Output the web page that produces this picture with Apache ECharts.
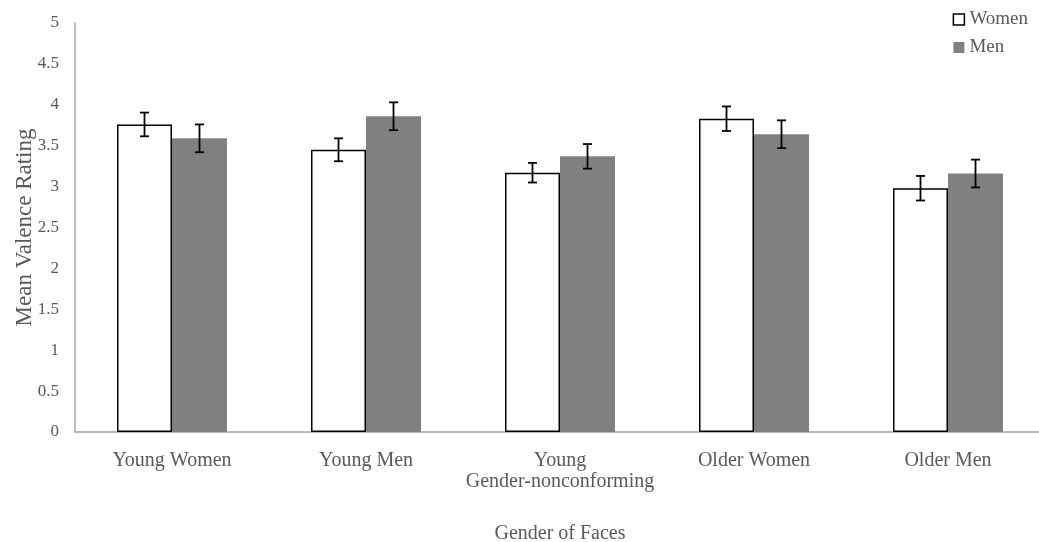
<!DOCTYPE html>
<html>
<head>
<meta charset="utf-8">
<script src="https://cdn.jsdelivr.net/npm/echarts@6/dist/echarts.min.js"></script>
<style>html,body{margin:0;padding:0;background:#fff}#c{width:1039px;height:542px}</style>
</head>
<body>
<div id="c"></div>
<script>
var categories = ['Young Women', 'Young Men', 'Young\nGender-nonconforming', 'Older Women', 'Older Men'];
var womenValues = [3.76, 3.45, 3.17, 3.83, 2.98];
var womenErrors = [0.145, 0.14, 0.12, 0.15, 0.15];
var menValues = [3.59, 3.86, 3.37, 3.64, 3.16];
var menErrors = [0.17, 0.17, 0.15, 0.17, 0.17];
var yTicks = [0, 0.5, 1, 1.5, 2, 2.5, 3, 3.5, 4, 4.5, 5];

var BAR_W = 55;
var FONT = '"Liberation Serif", "DejaVu Serif", serif';

function errSeries(values, errors, offset) {
  return {
    type: 'custom',
    silent: true,
    z: 10,
    data: values.map(function (v, i) { return [i, v, errors[i]]; }),
    renderItem: function (params, api) {
      var i = api.value(0), v = api.value(1), e = api.value(2);
      var top = api.coord([i, v + e]);
      var bot = api.coord([i, v - e]);
      var x = top[0] + offset;
      var cap = 4.5;
      var st = { stroke: '#000', lineWidth: 1.8 };
      return {
        type: 'group',
        children: [
          { type: 'line', shape: { x1: x, y1: top[1], x2: x, y2: bot[1] }, style: st },
          { type: 'line', shape: { x1: x - cap, y1: top[1], x2: x + cap, y2: top[1] }, style: st },
          { type: 'line', shape: { x1: x - cap, y1: bot[1], x2: x + cap, y2: bot[1] }, style: st }
        ]
      };
    }
  };
}

var chart = echarts.init(document.getElementById('c'), null, { renderer: 'canvas' });
chart.setOption({
  animation: false,
  backgroundColor: '#fff',
  grid: { left: 75, right: -6, top: 23, bottom: 110, containLabel: false, outerBoundsMode: 'none' },
  legend: {
    orient: 'vertical',
    right: 6,
    top: 5,
    itemWidth: 11,
    itemHeight: 11,
    itemGap: 9,
    icon: 'rect',
    textStyle: { fontFamily: FONT, fontSize: 19, color: '#595959' },
    data: [
      { name: 'Women', itemStyle: { color: '#fff', borderColor: '#000', borderWidth: 1.5 } },
      { name: 'Men', itemStyle: { color: '#808080' } }
    ]
  },
  xAxis: {
    type: 'category',
    data: categories,
    name: 'Gender of Faces',
    nameLocation: 'middle',
    nameGap: 92,
    nameMoveOverlap: false,
    nameTextStyle: { fontFamily: FONT, fontSize: 20, color: '#595959' },
    axisLine: { lineStyle: { color: '#a6a6a6', width: 1.5 } },
    axisTick: { show: false },
    axisLabel: { fontFamily: FONT, fontSize: 20, color: '#595959', margin: 18, lineHeight: 21, interval: 0 }
  },
  yAxis: {
    type: 'value',
    min: 0,
    max: 5,
    interval: 0.5,
    name: 'Mean Valence Rating',
    nameLocation: 'middle',
    nameGap: 39,
    nameMoveOverlap: false,
    nameTextStyle: { fontFamily: FONT, fontSize: 23, color: '#595959' },
    axisLine: { show: true, lineStyle: { color: '#a6a6a6', width: 1.5 } },
    axisTick: { show: false },
    splitLine: { show: false },
    axisLabel: {
      fontFamily: FONT, fontSize: 17, color: '#595959', margin: 16,
      formatter: function (v) { return yTicks.indexOf(v) >= 0 ? String(v) : ''; }
    }
  },
  series: [
    {
      name: 'Women', type: 'bar', data: womenValues, barWidth: BAR_W, barGap: '0%',
      itemStyle: { color: '#fff', borderColor: '#000', borderWidth: 1.5 }
    },
    {
      name: 'Men', type: 'bar', data: menValues, barWidth: BAR_W, barGap: '0%',
      itemStyle: { color: '#808080' }
    },
    errSeries(womenValues, womenErrors, -BAR_W / 2),
    errSeries(menValues, menErrors, BAR_W / 2)
  ]
});
</script>
</body>
</html>
